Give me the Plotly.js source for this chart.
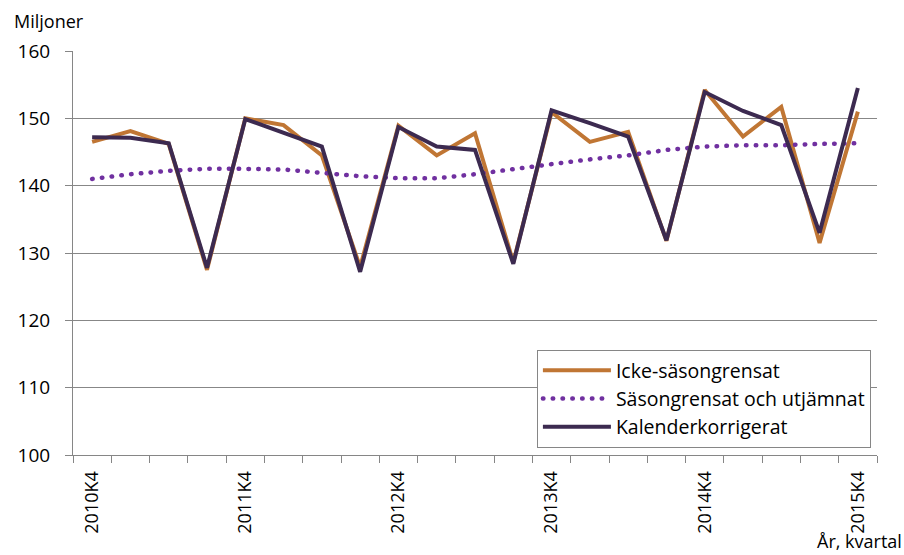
<!DOCTYPE html>
<html>
<head>
<meta charset="utf-8">
<script src="https://cdn.plot.ly/plotly-3.0.1.min.js"></script>
<style>
  html, body { margin: 0; padding: 0; background: #fff; }
  #chart { width: 904px; height: 555px; }
  /* round dots for the dotted series, like the original */
  #chart path[style*="dasharray"] { stroke-linecap: round; }
</style>
</head>
<body>
<div id="chart"></div>
<script>
const quarters = [
  '2010K4', '2011K1', '2011K2', '2011K3', '2011K4', '2012K1', '2012K2', '2012K3',
  '2012K4', '2013K1', '2013K2', '2013K3', '2013K4', '2014K1', '2014K2', '2014K3',
  '2014K4', '2015K1', '2015K2', '2015K3', '2015K4'
];
const ickeSasong = [
  146.5, 148.1, 146.2, 127.5, 150.0, 149.0, 144.5, 127.9, 148.9, 144.5, 147.8,
  128.6, 150.9, 146.5, 148.0, 131.8, 154.2, 147.3, 151.7, 131.5, 151.0
];
const sasongUtjamnat = [
  141.0, 141.7, 142.2, 142.5, 142.5, 142.4, 141.9, 141.4, 141.1, 141.1, 141.7,
  142.5, 143.2, 143.9, 144.5, 145.3, 145.8, 146.0, 146.0, 146.2, 146.3
];
const kalender = [
  147.2, 147.1, 146.3, 127.8, 149.9, 147.8, 145.8, 127.2, 148.7, 145.8, 145.3,
  128.4, 151.2, 149.3, 147.3, 131.9, 153.9, 151.1, 149.0, 133.0, 154.5
];
const labelEvery = 4;

const xs = quarters.map((q, i) => i);
const tickIdx = xs.filter(i => i % labelEvery === 0);

const font = 'Open Sans, Liberation Sans, sans-serif';

const data = [
  {
    x: xs, y: ickeSasong, text: quarters, name: 'Icke-säsongrensat',
    type: 'scatter', mode: 'lines',
    line: { color: '#C07634', width: 4 }
  },
  {
    x: xs, y: sasongUtjamnat, text: quarters, name: 'Säsongrensat och utjämnat',
    type: 'scatter', mode: 'lines',
    line: { color: '#7030A0', width: 4.5, dash: '0.5px,9.3px' }
  },
  {
    x: xs, y: kalender, text: quarters, name: 'Kalenderkorrigerat',
    type: 'scatter', mode: 'lines',
    line: { color: '#3C2A50', width: 4 }
  }
];

const layout = {
  width: 904,
  height: 555,
  margin: { l: 73, r: 27, t: 51, b: 100 },
  paper_bgcolor: '#fff',
  plot_bgcolor: '#fff',
  font: { family: font, size: 16, color: '#000' },
  showlegend: true,
  legend: {
    x: 0.577, y: 0.26, xanchor: 'left', yanchor: 'top',
    bordercolor: '#868686', borderwidth: 1, bgcolor: '#fff',
    font: { family: font, size: 19.5, color: '#000' },
    itemwidth: 68,
    tracegroupgap: 0
  },
  xaxis: {
    range: [-0.5, 20.5],
    tickvals: tickIdx,
    ticktext: tickIdx.map(i => quarters[i]),
    tickangle: -90,
    ticks: '',
    ticklabelstandoff: 8,
    showgrid: false,
    zeroline: false,
    showline: true,
    linecolor: '#868686',
    linewidth: 1,
    tickfont: { family: font, size: 18, color: '#000' },
    minor: { tick0: -0.5, dtick: 1, ticks: 'outside', ticklen: 7, tickcolor: '#868686', showgrid: false }
  },
  yaxis: {
    range: [100, 160],
    dtick: 10,
    ticks: 'outside',
    ticklen: 7,
    tickcolor: '#868686',
    ticklabelstandoff: 11,
    showgrid: true,
    gridcolor: '#878787',
    gridwidth: 1,
    zeroline: false,
    showline: true,
    linecolor: '#868686',
    linewidth: 1,
    tickfont: { family: font, size: 19, color: '#000' }
  },
  annotations: [
    { text: 'Miljoner', xref: 'paper', yref: 'paper', x: -0.0759, y: 1.074,
      xanchor: 'left', yanchor: 'middle', showarrow: false,
      font: { family: font, size: 18, color: '#000' } },
    { text: 'År, kvartal', xref: 'paper', yref: 'paper', x: 1.0336, y: -0.2475,
      xanchor: 'right', yanchor: 'bottom', showarrow: false,
      font: { family: font, size: 18, color: '#000' } }
  ]
};

Plotly.newPlot('chart', data, layout, { displayModeBar: false, staticPlot: true });
</script>
</body>
</html>
